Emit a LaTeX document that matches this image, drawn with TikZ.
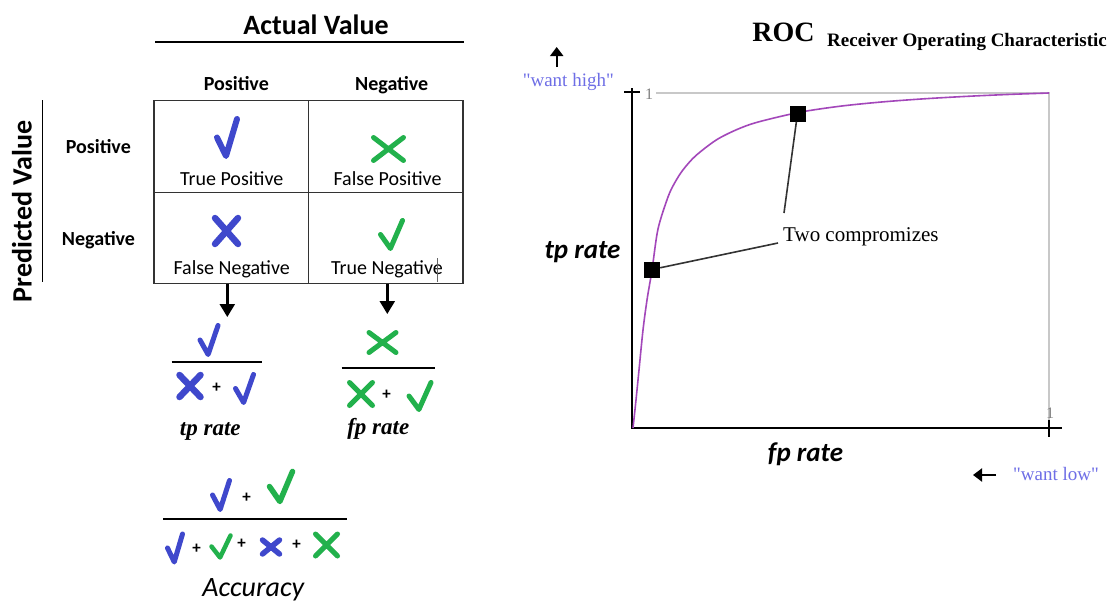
\documentclass[tikz,border=0pt]{standalone}
\usepackage{fontspec}
\setmainfont{Carlito}
\newfontfamily\rocserif{Liberation Serif}
\usetikzlibrary{arrows.meta}
\definecolor{tpblue}{HTML}{3F48CC}
\definecolor{tngreen}{HTML}{22B14C}
\definecolor{rocpurple}{HTML}{A347BA}
\definecolor{wantblue}{HTML}{6E6EE6}
\definecolor{gridgray}{HTML}{C8C8C8}
\newcommand\fsz[1]{\fontsize{#1}{#1}\selectfont}
\tikzset{
  every node/.style={inner sep=0pt},
  chk/.pic={\draw[line cap=round,line join=round] (-0.5,0) -- (-0.05,0.5) -- (0.5,-0.5);},
  crs/.pic={\draw[line cap=round] (-0.5,-0.5) -- (0.5,0.5) (0.5,-0.5) -- (-0.5,0.5);},
  hdr/.style={font=\bfseries\fsz{20}, anchor=base},
  big/.style={font=\bfseries\fsz{28}, anchor=base},
  lbl/.style={font=\fsz{20}, anchor=base},
  cell/.style={draw=black!80, line width=1.2pt, minimum width=154.5pt, minimum height=91.5pt},
  arr/.style={line width=2.4pt, -{Triangle[width=15pt,length=13pt]}},
  smallarr/.style={line width=2pt, -{Triangle[width=13pt,length=9pt]}},
  bar/.style={line width=2pt},
  axis/.style={line width=2.6pt},
  want/.style={font=\rocserif\fsz{19}, text=wantblue},
  sq/.style={fill=black, minimum size=16pt},
  callout/.style={line width=1.6pt, black!80},
}
\begin{document}
\begin{tikzpicture}[x=1pt, y=-1pt]
\fill[white] (0,0) rectangle (1117,608);
\useasboundingbox (0,0) rectangle (1117,608);
% confusion matrix
\node[big] (actual) at (316,34.3) {Actual Value};
\draw[line width=1.5pt] (155,42) -- (464,42);
\node[big, rotate=90] (pred) at (31.7,211.5) {Predicted Value};
\draw[line width=1.5pt] (42.3,100) -- (42.3,282);
\node[hdr] (colpos) at (236.3,90) {Positive};
\node[hdr] (colneg) at (391.7,90) {Negative};
\node[hdr] (rowpos) at (98.3,153.3) {Positive};
\node[hdr] (rowneg) at (98.5,245) {Negative};
\node[cell] (tp) at (231.25,146.5) {};
\node[cell] (fp) at (385.75,146.5) {};
\node[cell] (fn) at (231.25,238) {};
\node[cell] (tn) at (385.75,238) {};
\node[lbl] (tptxt) at (231.7,185.7) {True Positive};
\node[lbl] (fptxt) at (387.5,185.7) {False Positive};
\node[lbl] (fntxt) at (231.7,274) {False Negative};
\node[lbl] (tntxt) at (387,274) {True Negative};
\draw[black!60, line width=0.8pt] (437,258) -- (437,282);
% arrows down to the rates
\coordinate (tpfrac) at (227.3,317);
\coordinate (fpfrac) at (387.3,314);
\draw[arr] (fn.south -| tpfrac) -- (tpfrac);
\draw[arr] (tn.south -| fpfrac) -- (fpfrac);
% ticks and crosses: colour/x/y/w/h/line width
\foreach \c/\x/\y/\w/\h/\lw in {tpblue/227/137.5/20/37/6, tngreen/391.5/234.5/22/28/5,
  tpblue/209/340/18/29/5, tpblue/244.5/388.5/18/28/5, tngreen/420/396/22/27/5,
  tpblue/221/495/17/29/5, tngreen/281/486.5/23/30/5.5,
  tpblue/175/548/15/28/5, tngreen/221/546.5/19/22/4.5} {
  \pic[color=\c, line width=\lw pt, xscale=\w, yscale=\h] at (\x,\y) {chk};
}
\foreach \c/\x/\y/\w/\h/\lw in {tngreen/388.5/149/30/23/5, tpblue/226.5/231/23/26/6.5,
  tpblue/190/386/21/22/6.5, tngreen/382.5/342.5/27/20/5, tngreen/361/394/23/23/5,
  tpblue/271/547/17/14/5.5, tngreen/326.5/545/22/22/5} {
  \pic[color=\c, line width=\lw pt, xscale=\w, yscale=\h] at (\x,\y) {crs};
}
\foreach \x/\y in {216.7/388, 386.7/395, 246.7/498, 196.7/548.3, 241.7/543.3, 296.7/544.3} {
  \node[font=\bfseries\fsz{17}] at (\x,\y) {+};
}
\draw[bar] (171.7,361.7) -- (261.7,361.7);
\draw[bar] (341.7,368.3) -- (435,368.3);
\draw[bar] (163.3,519) -- (346.7,519);
\node[font=\rocserif\bfseries\itshape\fsz{23}, anchor=base] (tplab) at (210.3,435) {tp rate};
\node[font=\rocserif\bfseries\itshape\fsz{23}, anchor=base] (fplab) at (378.3,434) {fp rate};
\node[font=\itshape\fsz{28}, anchor=base] (acc) at (253.3,596.7) {Accuracy};
% ROC plot
\node[font=\rocserif\bfseries\fsz{28}, anchor=base] (roc) at (783.5,41.7) {ROC};
\node[font=\rocserif\bfseries\fsz{19}, anchor=base west] (rocsub) at (827,46.7) {Receiver Operating Characteristic};
\node[want, anchor=base] (high) at (568.3,86.7) {"want high"};
\coordinate (upa) at (556.7,67);
\coordinate (upb) at (556.7,47);
\draw[smallarr] (upa) -- (upb);
\node[want, anchor=base west] (low) at (1013,480) {"want low"};
\coordinate (lta) at (996,475);
\coordinate (ltb) at (973,475);
\draw[smallarr] (lta) -- (ltb);
\draw[gridgray, line width=1.3pt] (656,93) -- (1049,93) -- (1049,421);
\node[font=\rocserif\fsz{16}, text=black!50] (one1) at (649,94) {1};
\node[font=\rocserif\fsz{16}, text=black!50] (one2) at (1050,413) {1};
\coordinate (O) at (632,428);
\draw[axis] (632,88) -- (O) -- (1062,428);
\draw[axis] (624,92) -- (640,92);
\draw[axis] (1049,420) -- (1049,437);
\draw[rocpurple, line width=1.6pt] plot[smooth, tension=0.5] coordinates {(633,428) (636,400)
  (639,370) (643,330) (647,300) (652,270) (658,229) (668,197) (674.6,183) (682.9,170)
  (695.4,156) (716.2,140) (737,129.5) (757.8,122.1) (799.4,112.3) (841,106.1) (882.6,101.9)
  (924.2,98.8) (965.8,96.4) (1007.4,94.5) (1049,93)};
\node[sq] (sqlo) at (652,269.5) {};
\node[sq] (sqhi) at (797.5,113.5) {};
\node[font=\rocserif\fsz{21}, anchor=base west] (compro) at (783,241.7) {Two compromizes};
\coordinate (cphi) at (784,213);
\coordinate (cplo) at (778,243);
\draw[callout] (sqhi) -- (cphi);
\draw[callout] (sqlo) -- (cplo);
\node[font=\bfseries\itshape\fsz{27}, anchor=base] (tpaxis) at (582.5,258.3) {tp rate};
\node[font=\bfseries\itshape\fsz{27}, anchor=base] (fpaxis) at (805.5,461.7) {fp rate};
\end{tikzpicture}
\end{document}
